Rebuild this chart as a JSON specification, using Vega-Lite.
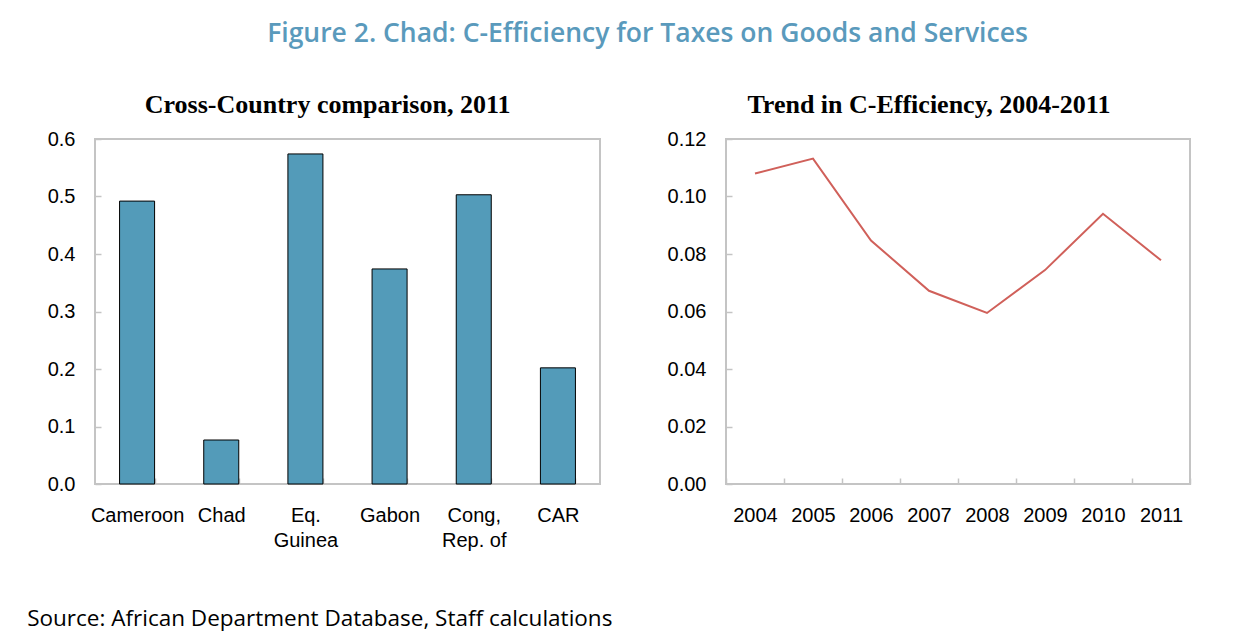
{
  "$schema": "https://vega.github.io/schema/vega-lite/v6.json",
  "background": "white",
  "padding": {"left": 27, "top": 20, "right": 5, "bottom": 5},
  "title": {
    "text": "Figure 2. Chad: C-Efficiency for Taxes on Goods and Services",
    "font": "Open Sans",
    "fontSize": 26.5,
    "fontWeight": 600,
    "color": "#5a9abc",
    "anchor": "middle",
    "frame": "bounds",
    "offset": 44,
    "dx": 38
  },
  "vconcat": [
    {
      "title": {
        "text": "Source: African Department Database, Staff calculations",
        "orient": "bottom",
        "anchor": "start",
        "frame": "bounds",
        "font": "Open Sans",
        "fontSize": 22.5,
        "fontWeight": "normal",
        "color": "black",
        "offset": 56,
        "dx": -19
      },
      "spacing": 65,
      "hconcat": [
        {
          "width": 505,
          "height": 345,
          "title": {"text": "Cross-Country comparison, 2011", "dx": 4},
          "data": {
            "values": [
              {"country": "Cameroon", "value": 0.492},
              {"country": "Chad", "value": 0.0765},
              {"country": "Eq. Guinea", "value": 0.574},
              {"country": "Gabon", "value": 0.374},
              {"country": "Cong, Rep. of", "value": 0.503},
              {"country": "CAR", "value": 0.202}
            ]
          },
          "mark": {"type": "bar", "color": "#539bb9", "stroke": "black", "strokeWidth": 1},
          "encoding": {
            "x": {
              "field": "country",
              "type": "nominal",
              "sort": null,
              "scale": {"paddingInner": 0.584, "paddingOuter": 0.292},
              "axis": {
                "labelAngle": 0,
                "tickBand": "extent",
                "labelExpr": "datum.label == 'Eq. Guinea' ? ['Eq.', 'Guinea'] : datum.label == 'Cong, Rep. of' ? ['Cong,', 'Rep. of'] : datum.label"
              }
            },
            "y": {
              "field": "value",
              "type": "quantitative",
              "scale": {"domain": [0, 0.6], "nice": false},
              "axis": {"values": [0, 0.1, 0.2, 0.3, 0.4, 0.5, 0.6], "format": ".1f"}
            }
          }
        },
        {
          "width": 464,
          "height": 345,
          "title": {"text": "Trend in C-Efficiency, 2004-2011"},
          "data": {
            "values": [
              {"year": "2004", "value": 0.108},
              {"year": "2005", "value": 0.1132},
              {"year": "2006", "value": 0.0847},
              {"year": "2007", "value": 0.0672},
              {"year": "2008", "value": 0.0595},
              {"year": "2009", "value": 0.0744},
              {"year": "2010", "value": 0.094},
              {"year": "2011", "value": 0.0778}
            ]
          },
          "mark": {"type": "line", "color": "#d0605a", "strokeWidth": 2},
          "encoding": {
            "x": {
              "field": "year",
              "type": "ordinal",
              "scale": {"type": "band", "paddingInner": 0, "paddingOuter": 0},
              "axis": {"labelAngle": 0, "tickBand": "extent"}
            },
            "y": {
              "field": "value",
              "type": "quantitative",
              "scale": {"domain": [0, 0.12], "nice": false},
              "axis": {"values": [0, 0.02, 0.04, 0.06, 0.08, 0.1, 0.12], "format": ".2f"}
            }
          }
        }
      ]
    }
  ],
  "config": {
    "view": {"stroke": "#c4c4c4", "strokeWidth": 2},
    "axis": {
      "labelFont": "Liberation Sans",
      "labelFontSize": 20,
      "labelColor": "black",
      "domain": false,
      "grid": false,
      "title": null,
      "tickColor": "#c4c4c4",
      "tickWidth": 1.5,
      "tickSize": -6,
      "labelLineHeight": 25
    },
    "axisY": {"labelPadding": 26},
    "axisX": {"labelPadding": 27.5},
    "title": {
      "font": "Liberation Serif",
      "fontSize": 26,
      "fontWeight": "bold",
      "color": "black",
      "anchor": "middle",
      "frame": "bounds",
      "offset": 11
    }
  }
}
